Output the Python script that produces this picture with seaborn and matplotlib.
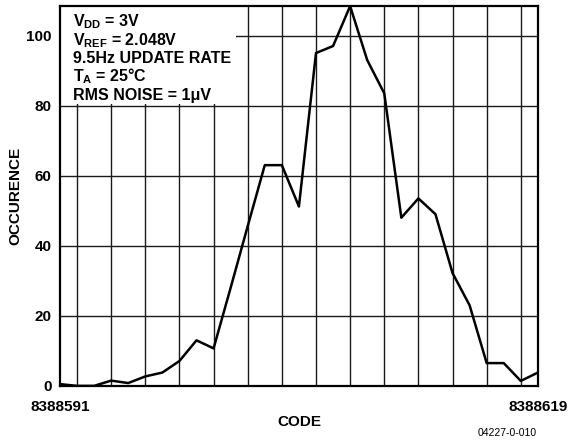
import matplotlib
matplotlib.use('Agg')
import matplotlib.pyplot as plt
import matplotlib.transforms as mtransforms
from matplotlib.patches import Rectangle
import seaborn as sns

# histogram of output codes
codes = list(range(8388591, 8388620))
counts = [0.5, 0, 0, 1.5, 0.8, 2.7, 3.8, 7.1, 13, 10.7,
          28, 45.6, 63, 63, 51.2, 95, 97, 108.4, 93, 83.5,
          48, 53.5, 49, 32.2, 23, 6.5, 6.5, 1.4, 3.8]
yticks = [0, 20, 40, 60, 80, 100]
grid_codes = codes[1:-1:2]
end_labels = ['8388591', '8388619']
notes = [r'V$_{DD}$ = 3V', r'V$_{REF}$ = 2.048V', '9.5Hz UPDATE RATE',
         r'T$_{A}$ = 25°C', 'RMS NOISE = 1μV']

sns.set_style('white')
plt.rcParams['font.family'] = ['Liberation Sans', 'DejaVu Sans']
plt.rcParams['font.weight'] = 'bold'
plt.rcParams['text.color'] = 'black'
plt.rcParams['axes.labelcolor'] = 'black'
plt.rcParams['xtick.color'] = 'black'
plt.rcParams['ytick.color'] = 'black'
plt.rcParams['mathtext.fontset'] = 'custom'
plt.rcParams['mathtext.rm'] = 'Liberation Sans:bold'
plt.rcParams['mathtext.it'] = 'Liberation Sans:bold'
plt.rcParams['mathtext.bf'] = 'Liberation Sans:bold'
plt.rcParams['mathtext.default'] = 'regular'

fig = plt.figure(figsize=(5.71, 4.42), dpi=100)
ax = fig.add_axes([0.105, 0.127, 0.837, 0.86])

sns.lineplot(x=codes, y=counts, color='black', linewidth=1.8, ax=ax, zorder=3)

ax.set_xlim(codes[0], codes[-1])
ax.set_ylim(0, 108.5)
ax.set_xticks([codes[0], codes[-1]])
ax.set_xticklabels(end_labels, fontsize=11, fontweight='bold')
ax.set_xticks(grid_codes, minor=True)
ax.set_yticks(yticks)
ax.set_yticklabels([str(v) for v in yticks], fontsize=11, fontweight='bold')
ax.tick_params(axis='both', which='both', length=0, colors='black')
ax.tick_params(axis='x', pad=10)
ax.tick_params(axis='y', pad=6)

ax.set_axisbelow(True)
ax.grid(False)
ax.grid(True, which='minor', axis='x', color='#1a1a1a', linewidth=1.0)
ax.grid(True, which='major', axis='y', color='#1a1a1a', linewidth=1.0)
for s in ax.spines.values():
    s.set_visible(True)
    s.set_color('black')
    s.set_linewidth(1.6)

ax.set_xlabel('CODE', fontsize=11, fontweight='bold', labelpad=1)
ax.set_ylabel('OCCURENCE', fontsize=11, fontweight='bold', labelpad=3)

# white box for the conditions text
trans = mtransforms.blended_transform_factory(ax.transAxes, ax.transData)
ax.add_patch(Rectangle((0, 80.4), 0.368, 40, transform=trans,
                       facecolor='white', edgecolor='none', zorder=1))
ys = [0.9455, 0.897, 0.849, 0.801, 0.753]
for txt, y in zip(notes, ys):
    ax.text(0.027, y, txt, transform=ax.transAxes, fontsize=11.5,
            fontweight='bold', va='baseline', ha='left', zorder=4)

fig.text(0.888, 0.02, '04227-0-010', fontsize=7.5, fontweight='normal',
         ha='center', va='center')

fig.savefig('out.png', dpi=100)
